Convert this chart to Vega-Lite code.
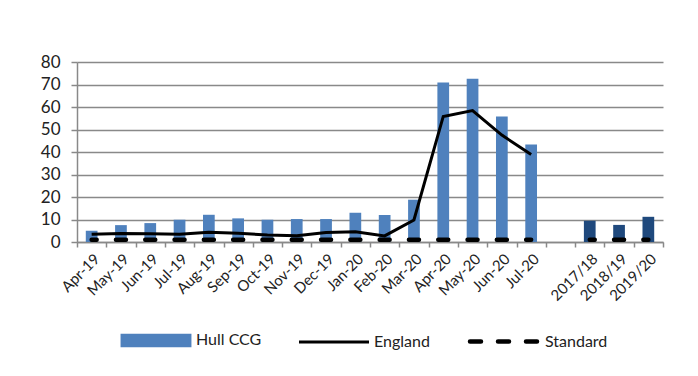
{
  "$schema": "https://vega.github.io/schema/vega-lite/v6.json",
  "width": 586,
  "height": 180,
  "autosize": {"type": "none"},
  "padding": {"left": 77, "top": 62, "right": 35, "bottom": 134},
  "background": "white",
  "config": {
    "view": {"stroke": null},
    "font": "Lato",
    "axis": {
      "labelColor": "#222222",
      "labelFont": "Lato",
      "domainColor": "#898989",
      "tickColor": "#898989",
      "gridColor": "#898989",
      "domainWidth": 1.5,
      "gridWidth": 1.5,
      "tickWidth": 1.5
    }
  },
  "data": {
    "values": [
      {"cat": "Apr-19", "kind": "monthly", "hull": 5.0, "england": 3.4, "standard": 1},
      {"cat": "May-19", "kind": "monthly", "hull": 7.5, "england": 3.8, "standard": 1},
      {"cat": "Jun-19", "kind": "monthly", "hull": 8.4, "england": 3.7, "standard": 1},
      {"cat": "Jul-19", "kind": "monthly", "hull": 9.9, "england": 3.4, "standard": 1},
      {"cat": "Aug-19", "kind": "monthly", "hull": 12.1, "england": 4.3, "standard": 1},
      {"cat": "Sep-19", "kind": "monthly", "hull": 10.5, "england": 3.9, "standard": 1},
      {"cat": "Oct-19", "kind": "monthly", "hull": 9.9, "england": 3.1, "standard": 1},
      {"cat": "Nov-19", "kind": "monthly", "hull": 10.2, "england": 2.8, "standard": 1},
      {"cat": "Dec-19", "kind": "monthly", "hull": 10.2, "england": 4.2, "standard": 1},
      {"cat": "Jan-20", "kind": "monthly", "hull": 13.0, "england": 4.6, "standard": 1},
      {"cat": "Feb-20", "kind": "monthly", "hull": 12.0, "england": 2.7, "standard": 1},
      {"cat": "Mar-20", "kind": "monthly", "hull": 18.8, "england": 9.8, "standard": 1},
      {"cat": "Apr-20", "kind": "monthly", "hull": 70.9, "england": 55.8, "standard": 1},
      {"cat": "May-20", "kind": "monthly", "hull": 72.6, "england": 58.4, "standard": 1},
      {"cat": "Jun-20", "kind": "monthly", "hull": 55.8, "england": 47.5, "standard": 1},
      {"cat": "Jul-20", "kind": "monthly", "hull": 43.3, "england": 38.9, "standard": 1},
      {"cat": "2017/18", "kind": "annual", "hull": 9.4, "england": null, "standard": 1},
      {"cat": "2018/19", "kind": "annual", "hull": 7.6, "england": null, "standard": 1},
      {"cat": "2019/20", "kind": "annual", "hull": 11.2, "england": null, "standard": 1}
    ]
  },
  "encoding": {
    "x": {
      "field": "cat",
      "type": "nominal",
      "scale": {
        "domain": ["Apr-19", "May-19", "Jun-19", "Jul-19", "Aug-19", "Sep-19", "Oct-19", "Nov-19", "Dec-19", "Jan-20", "Feb-20", "Mar-20", "Apr-20", "May-20", "Jun-20", "Jul-20", " ", "2017/18", "2018/19", "2019/20"],
        "paddingInner": 0,
        "paddingOuter": 0
      },
      "axis": {
        "title": null,
        "labelAngle": -45,
        "labelFontSize": 15,
        "labelPadding": 4,
        "tickBand": "extent",
        "tickSize": 5,
        "grid": false
      }
    }
  },
  "layer": [
    {
      "transform": [{"filter": "datum.kind === 'monthly'"}],
      "mark": {"type": "bar", "width": {"band": 0.4}},
      "encoding": {
        "y": {
          "field": "hull",
          "type": "quantitative",
          "scale": {"domain": [0, 80], "nice": false},
          "axis": {"title": null, "values": [0, 10, 20, 30, 40, 50, 60, 70, 80], "labelFontSize": 17, "labelPadding": 11, "labelOverlap": false, "tickSize": 6, "grid": true}
        },
        "color": {
          "datum": "Hull CCG",
          "type": "nominal",
          "scale": {"domain": ["Hull CCG", "England", "Standard"], "range": ["#4F81BD", "#000000", "#000000"]},
          "legend": {
            "orient": "none",
            "direction": "horizontal",
            "legendX": 71,
            "legendY": 270,
            "title": null,
            "padding": 0,
            "labelFont": "Lato",
            "labelFontSize": 16,
            "labelColor": "#222222",
            "labelOffset": 32,
            "columnPadding": 31,
            "encode": {
              "symbols": {
                "update": {
                  "size": {"value": 4900},
                  "shape": {"signal": "datum.value === 'Hull CCG' ? 'M-0.97,-0.15H0.97V0.15H-0.97Z' : 'stroke'"},
                  "fill": {"signal": "datum.value === 'Hull CCG' ? '#4F81BD' : 'transparent'"},
                  "stroke": {"signal": "datum.value === 'Hull CCG' ? 'transparent' : '#000000'"},
                  "strokeWidth": {"signal": "datum.value === 'Standard' ? 4.5 : 3"},
                  "strokeDash": {"signal": "datum.value === 'Standard' ? [11, 17] : [1, 0]"},
                  "strokeCap": {"signal": "datum.value === 'Standard' ? 'round' : 'butt'"},
                  "opacity": {"value": 1}
                }
              }
            }
          }
        }
      }
    },
    {
      "transform": [{"filter": "datum.kind === 'annual'"}],
      "mark": {"type": "bar", "width": {"band": 0.4}, "color": "#1F497D"},
      "encoding": {
        "y": {
          "field": "hull",
          "type": "quantitative",
          "axis": {"title": null, "values": [0, 10, 20, 30, 40, 50, 60, 70, 80], "labelFontSize": 17, "labelPadding": 11, "labelOverlap": false, "tickSize": 6, "grid": true}
        }
      }
    },
    {
      "transform": [{"filter": "datum.kind === 'monthly'"}],
      "mark": {"type": "line", "strokeWidth": 3, "strokeJoin": "miter"},
      "encoding": {
        "y": {
          "field": "england",
          "type": "quantitative",
          "axis": {"title": null, "values": [0, 10, 20, 30, 40, 50, 60, 70, 80], "labelFontSize": 17, "labelPadding": 11, "labelOverlap": false, "tickSize": 6, "grid": true}
        },
        "color": {"datum": "England", "type": "nominal"}
      }
    },
    {
      "mark": {"type": "line", "strokeWidth": 4.5, "strokeCap": "round", "strokeDash": [10, 19.3], "strokeDashOffset": 5},
      "encoding": {
        "y": {
          "field": "standard",
          "type": "quantitative",
          "axis": {"title": null, "values": [0, 10, 20, 30, 40, 50, 60, 70, 80], "labelFontSize": 17, "labelPadding": 11, "labelOverlap": false, "tickSize": 6, "grid": true}
        },
        "detail": {"field": "kind", "type": "nominal"},
        "color": {"datum": "Standard", "type": "nominal"}
      }
    }
  ]
}
